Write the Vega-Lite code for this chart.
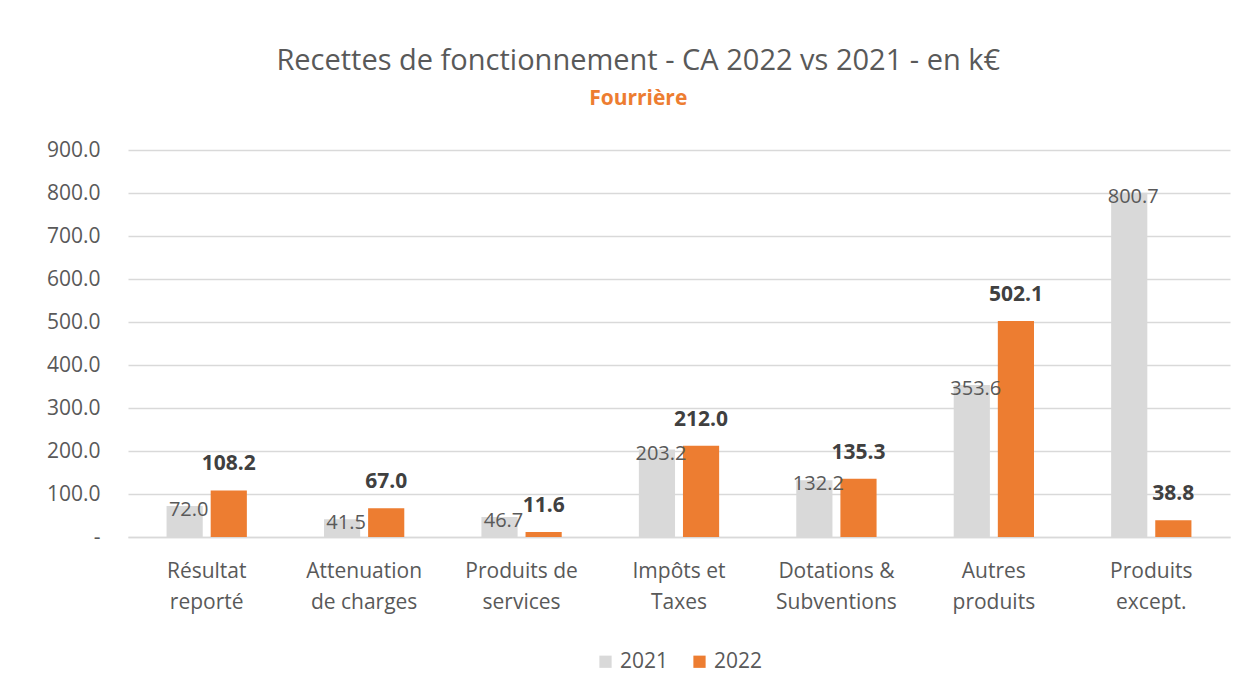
{
  "$schema": "https://vega.github.io/schema/vega-lite/v6.json",
  "width": 1250,
  "height": 692,
  "autosize": {"type": "fit", "contains": "padding"},
  "padding": {"left": 46, "right": 20, "top": 47, "bottom": 20},
  "background": "white",
  "config": {
    "font": "Open Sans",
    "view": {"stroke": null},
    "legend": {"layout": {"bottom": {"anchor": "middle"}}}
  },
  "title": {
    "text": "Recettes de fonctionnement - CA 2022 vs 2021 - en k€",
    "subtitle": "Fourrière",
    "anchor": "middle",
    "frame": "bounds",
    "fontSize": 29,
    "fontWeight": "normal",
    "color": "#595959",
    "subtitleFontSize": 21,
    "subtitleFontWeight": "bold",
    "subtitleColor": "#ed7d31",
    "subtitlePadding": 12,
    "offset": 30
  },
  "data": {
    "values": [
      {"cat": "Résultat|reporté", "year": "2021", "value": 72.0},
      {"cat": "Résultat|reporté", "year": "2022", "value": 108.2},
      {"cat": "Attenuation|de charges", "year": "2021", "value": 41.5},
      {"cat": "Attenuation|de charges", "year": "2022", "value": 67.0},
      {"cat": "Produits de|services", "year": "2021", "value": 46.7},
      {"cat": "Produits de|services", "year": "2022", "value": 11.6},
      {"cat": "Impôts et|Taxes", "year": "2021", "value": 203.2},
      {"cat": "Impôts et|Taxes", "year": "2022", "value": 212.0},
      {"cat": "Dotations &|Subventions", "year": "2021", "value": 132.2},
      {"cat": "Dotations &|Subventions", "year": "2022", "value": 135.3},
      {"cat": "Autres|produits", "year": "2021", "value": 353.6},
      {"cat": "Autres|produits", "year": "2022", "value": 502.1},
      {"cat": "Produits|except.", "year": "2021", "value": 800.7},
      {"cat": "Produits|except.", "year": "2022", "value": 38.8}
    ]
  },
  "encoding": {
    "x": {
      "field": "cat",
      "type": "nominal",
      "sort": null,
      "title": null,
      "scale": {"paddingInner": 0.49, "paddingOuter": 0.245},
      "axis": {
        "labelExpr": "split(datum.label, '|')",
        "labelAngle": 0,
        "labelFontSize": 21,
        "labelColor": "#595959",
        "labelLineHeight": 31,
        "labelPadding": 23,
        "ticks": false,
        "domainColor": "#d9d9d9",
        "domainWidth": 1.5
      }
    },
    "xOffset": {
      "field": "year",
      "type": "nominal",
      "scale": {"paddingInner": 0.18}
    },
    "y": {
      "field": "value",
      "type": "quantitative",
      "title": null,
      "scale": {"domain": [0, 900]},
      "axis": {
        "values": [0, 100, 200, 300, 400, 500, 600, 700, 800, 900],
        "labelExpr": "datum.value == 0 ? '-\u00a0\u00a0\u00a0\u00a0' : format(datum.value, '.1f')",
        "labelFontSize": 21,
        "labelColor": "#595959",
        "labelPadding": 28,
        "ticks": false,
        "domain": false,
        "gridColor": "#d9d9d9",
        "gridWidth": 1.5
      }
    }
  },
  "layer": [
    {
      "mark": {"type": "bar"},
      "encoding": {
        "color": {
          "field": "year",
          "type": "nominal",
          "scale": {"domain": ["2021", "2022"], "range": ["#d9d9d9", "#ed7d31"]},
          "legend": {
            "orient": "bottom",
            "direction": "horizontal",
            "title": null,
            "symbolType": "square",
            "symbolSize": 150,
            "symbolStrokeWidth": 0,
            "labelFontSize": 21,
            "labelColor": "#595959",
            "columnPadding": 20,
            "offset": 39
          }
        }
      }
    },
    {
      "transform": [{"filter": "datum.year == '2021'"}],
      "mark": {"type": "text", "baseline": "middle", "dy": 4, "dx": 4, "fontSize": 20, "color": "#595959"},
      "encoding": {
        "text": {"field": "value", "type": "quantitative", "format": ".1f"}
      }
    },
    {
      "transform": [{"filter": "datum.year == '2022'"}],
      "mark": {"type": "text", "baseline": "bottom", "dy": -16, "fontSize": 21, "fontWeight": "bold", "color": "#404040"},
      "encoding": {
        "text": {"field": "value", "type": "quantitative", "format": ".1f"}
      }
    }
  ]
}
